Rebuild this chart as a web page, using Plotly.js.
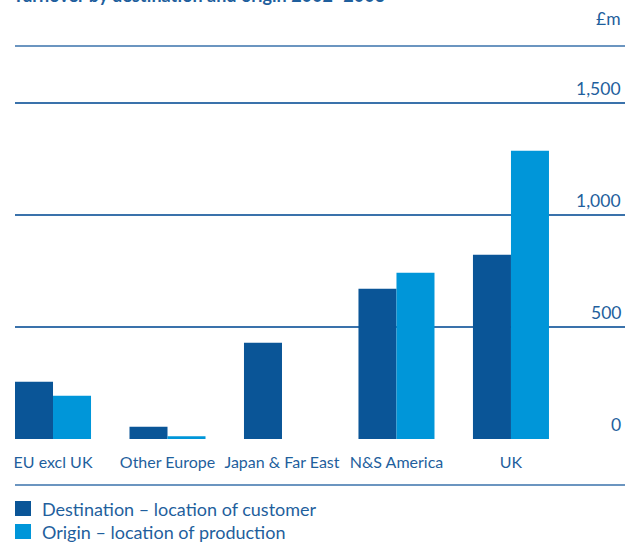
<!DOCTYPE html><html><head><meta charset="utf-8"><script src="https://cdn.plot.ly/plotly-3.0.1.min.js"></script></head><body style="margin:0"><div id="c" style="width:641px;height:543px"></div><script>
// ---- data ----
const categories = ['EU excl UK', 'Other Europe', 'Japan & Far East', 'N&S America', 'UK'];
const destination = [256, 55, 430, 671, 823];
const origin = [193, 12, 0, 742, 1287];
const seriesNames = ['Destination – location of customer', 'Origin – location of production'];
const tickVals = [0, 500, 1000, 1500];
const tickText = ['0', '500', '1,000', '1,500'];
const titleText = 'Turnover by destination and origin 2002–2003';
const unitText = '£m';

// ---- style ----
const DARK = '#0a5597', LIGHT = '#0096d9', TXT = '#1f5f9d', GRID = '#3a72ab';
const FONT = 'Lato, "Open Sans", sans-serif';
const colors = [DARK, LIGHT];

const traces = [destination, origin].map((vals, i) => ({
  type: 'bar', x: categories, y: vals, name: seriesNames[i],
  marker: {color: colors[i], line: {width: 0}}, showlegend: false, hoverinfo: 'x+y'
}));

const annotations = [];
tickVals.forEach((v, i) => annotations.push({
  text: tickText[i], xref: 'paper', x: 1, xanchor: 'right', xshift: -2,
  yref: 'y', y: v, yanchor: 'bottom', yshift: 2, showarrow: false,
  font: {family: FONT, size: 17.5, color: TXT}
}));
annotations.push({text: unitText, xref: 'paper', x: 1, xanchor: 'right', xshift: -2,
  yref: 'paper', y: 1, yanchor: 'bottom', yshift: 15, showarrow: false,
  font: {family: FONT, size: 17.5, color: TXT}});
annotations.push({text: titleText, xref: 'paper', x: 0, xanchor: 'left', xshift: -4,
  yref: 'paper', y: 1, yanchor: 'bottom', yshift: 38, showarrow: false,
  font: {family: FONT, size: 18, color: TXT, weight: 'bold'}});

const shapes = [
  {type: 'line', xref: 'paper', x0: 0, x1: 1, yref: 'paper', y0: 1, y1: 1, line: {color: GRID, width: 1.3}},
  {type: 'line', xref: 'paper', x0: 0, x1: 1, yref: 'paper', ysizemode: 'pixel', yanchor: 0, y0: -46, y1: -46, line: {color: GRID, width: 1.3}}
];
seriesNames.forEach((n, i) => {
  shapes.push({type: 'rect', xref: 'paper', xsizemode: 'pixel', xanchor: 0, x0: 0, x1: 16,
    yref: 'paper', ysizemode: 'pixel', yanchor: 0, y0: -62 - 23 * i, y1: -77 - 23 * i,
    fillcolor: colors[i], line: {width: 0}});
  annotations.push({text: n, xref: 'paper', x: 0, xanchor: 'left', xshift: 25,
    yref: 'paper', y: 0, yanchor: 'middle', yshift: -69.5 - 23 * i, showarrow: false,
    font: {family: FONT, size: 18, color: TXT}});
});

const layout = {
  width: 641, height: 543,
  margin: {l: 15, r: 16, t: 46, b: 104, pad: 0},
  paper_bgcolor: '#ffffff', plot_bgcolor: '#ffffff',
  barmode: 'group', bargap: 0.336, bargroupgap: 0,
  showlegend: false,
  xaxis: {type: 'category', range: [-0.332, 4.996], showgrid: false, zeroline: false, showline: false,
    ticks: '', tickangle: 0, tickfont: {family: FONT, size: 16, color: TXT}, ticklabelstandoff: 12, fixedrange: true},
  yaxis: {range: [0, 1755], tickvals: tickVals, showticklabels: false, showgrid: true,
    gridcolor: GRID, gridwidth: 1.3, zeroline: false, showline: false, fixedrange: true},
  annotations: annotations, shapes: shapes
};
Plotly.newPlot('c', traces, layout, {displayModeBar: false, staticPlot: true});
</script></body></html>
